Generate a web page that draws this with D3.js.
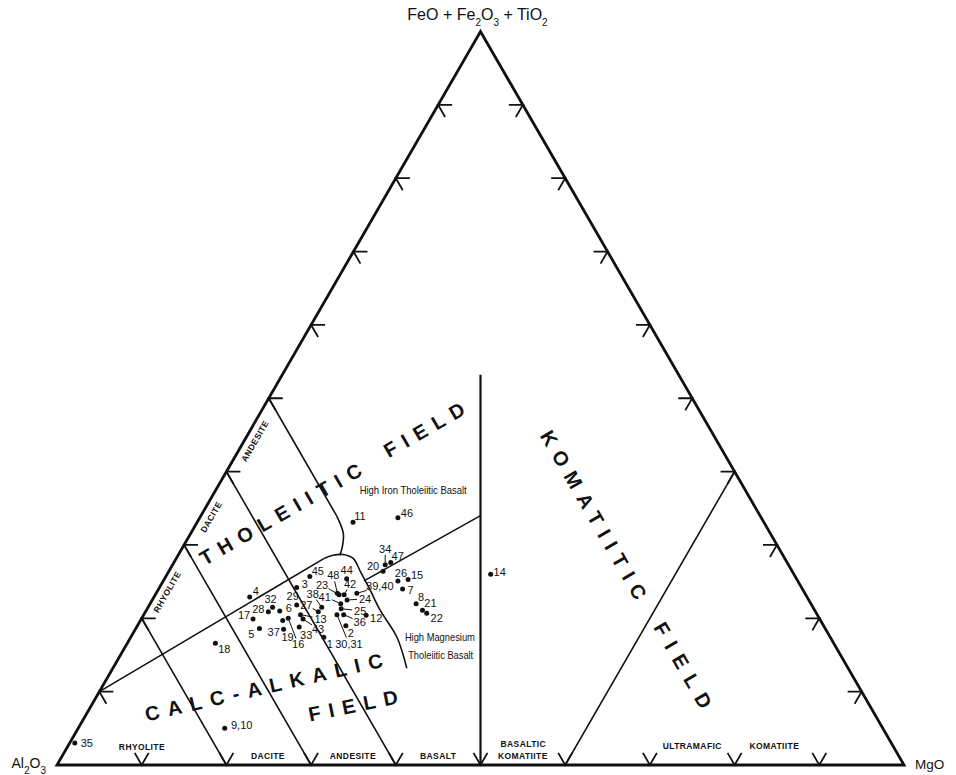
<!DOCTYPE html>
<html>
<head>
<meta charset="utf-8">
<script src="https://cdn.jsdelivr.net/npm/d3@7"></script>
<style>
  body { margin: 0; background: #fff; }
  svg { display: block; }
  text { font-family: 'Liberation Sans', Arial, Helvetica, sans-serif; fill: #111; }
</style>
</head>
<body>
<svg id="chart" width="956" height="775"></svg>
<script>
// compositions are [Al2O3, FeO+Fe2O3+TiO2, MgO] in cation percent

const tickValues = [10, 20, 30, 40, 50, 60, 70, 80, 90];

// calc-alkalic rock boundaries (constant Al)
const caRhyoliteDacite = [[80, 20, 0], [80, 0, 20]];
const caDaciteAndesite = [[70, 30, 0], [70, 0, 30]];
const caAndesiteBasalt = [[60, 40, 0], [60, 0, 40]];
// tholeiitic andesite / basalt boundary
const thAndesiteStraight = [[50, 50, 0], [50, 34, 16]];
const thAndesiteCurve = [[50, 34, 16], [50.4, 31.6, 18], [51.4, 29.8, 18.8], [52.3, 28.6, 19.1]];
// tholeiitic / calc-alkalic boundary and high-Mg tholeiite boundary
const thCaStraight = [[90, 10, 0], [54.3, 28.2, 17.5]];
const thCaCurve = [[54.3, 28.2, 17.5], [53.1, 28.6, 18.3], [51.9, 28.7, 19.4], [51.0, 28.2, 20.9],
  [51.0, 26.3, 22.7], [51.1, 23.9, 25.0], [51.3, 21.1, 27.6], [51.2, 17.5, 31.4], [52.1, 13.2, 34.7]];
const hftHmtLine = [[51.2, 25.1, 23.7], [33, 34, 33]];
const komatiiteLine = [[50, 0, 50], [23.4, 53.2, 23.4]];
const ultramaficLine = [[40, 0, 60], [0, 40, 60]];

// samples: id, composition
const samples = [
  ['1', [59.8, 17.4, 22.8]], ['2', [56.4, 19.0, 24.6]], ['3', [59.6, 24.2, 16.2]],
  ['4', [65.8, 22.9, 11.3]], ['5', [66.8, 18.6, 14.6]], ['6', [63.2, 21.0, 15.8]],
  ['7', [47.2, 24.0, 28.8]], ['8', [46.6, 22.0, 31.4]], ['9,10', [77.7, 5.0, 17.3]],
  ['11', [48.5, 33.1, 18.4]], ['12', [53.3, 20.4, 26.3]], ['13', [61.0, 20.5, 18.5]],
  ['14', [35.8, 26.0, 38.2]], ['15', [45.9, 25.3, 28.8]], ['16', [62.7, 20.0, 17.3]],
  ['17', [66.9, 19.9, 13.2]], ['18', [73.0, 16.6, 10.4]], ['19', [64.0, 18.5, 17.5]],
  ['20', [48.3, 26.4, 25.3]], ['21', [46.3, 21.1, 32.6]], ['22', [46.0, 20.7, 33.3]],
  ['23', [55.1, 23.2, 21.7]], ['24', [54.5, 22.5, 23.0]], ['25', [55.8, 21.3, 22.9]],
  ['26', [47.2, 25.1, 27.7]], ['27', [58.7, 20.9, 20.4]], ['28', [64.6, 20.9, 14.5]],
  ['29', [60.8, 21.8, 17.4]], ['30,31', [56.7, 20.5, 22.8]], ['32', [63.8, 21.5, 14.7]],
  ['33', [62.0, 18.8, 19.2]], ['34', [47.6, 27.3, 25.1]], ['35', [96.4, 3.0, 0.6]],
  ['36', [55.9, 20.5, 23.6]], ['37', [63.5, 19.7, 16.8]], ['38', [58.0, 21.5, 20.5]],
  ['39,40', [52.9, 23.4, 23.7]], ['41', [55.5, 22.0, 22.5]], ['42', [54.5, 23.2, 22.3]],
  ['43', [61.0, 19.9, 19.1]], ['44', [53.1, 25.4, 21.5]], ['45', [57.3, 25.7, 17.0]],
  ['46', [42.9, 33.7, 23.4]], ['47', [46.8, 27.6, 25.6]], ['48', [55.2, 23.4, 21.4]]
];

// where each number sits relative to its dot (px), and which ones get a leader line
const labelOffset = {
  '1': [6, 7], '2': [5, 7], '3': [8, -3], '4': [6, -6], '5': [-8, 5], '6': [9, -3], '7': [8, 1],
  '8': [5, -7], '9,10': [17, -3], '11': [7, -6], '12': [10, 3], '13': [20, 4], '14': [9, -2],
  '15': [9, -4], '16': [10, 26], '17': [-9, -4], '18': [9, 6], '19': [4, 8], '20': [-10, -5],
  '21': [8, -7], '22': [10, 5], '23': [-17, -10], '24': [18, -1], '25': [19, 2], '26': [3, -8],
  '27': [-12, -7], '28': [-10, -3], '29': [-4, -9], '30,31': [12, 29], '32': [-2, -8], '33': [7, 8],
  '34': [0, -16], '35': [12, 0], '36': [16, 7], '37': [-9, 11], '38': [-9, -13], '39,40': [23, -7],
  '41': [-16, -7], '42': [6, -11], '43': [15, 10], '44': [0, -9], '45': [8, -5], '46': [9, -5], '47': [7, -7],
  '48': [-4, -18]
};
const leaders = ['13', '16', '23', '24', '25', '27', '30,31', '34', '36', '38', '39,40', '41', '42', '43', '48'];

const fieldLabels = [
  { text: 'THOLEIITIC', at: [56.5, 34.2, 9.3], angle: -30, spacing: 8 },
  { text: 'FIELD', at: [33.8, 45.7, 20.5], angle: -30, spacing: 8 },
  { text: 'CALC-ALKALIC', at: [70.3, 10.6, 19.1], angle: -13, spacing: 8.5 },
  { text: 'FIELD', at: [61.0, 8.1, 30.9], angle: -11.5, spacing: 8.2 },
  { text: 'KOMATIITIC', at: [19.6, 34.1, 46.3], angle: 60, spacing: 8.5 },
  { text: 'FIELD', at: [19.3, 13.6, 67.1], angle: 60, spacing: 9.5 }
];
const sideLabels = [
  { text: 'RHYOLITE', at: [75.2, 23.6, 1.2] },
  { text: 'DACITE', at: [64.9, 33.8, 1.3] },
  { text: 'ANDESITE', at: [54.6, 44.2, 1.3] }
];
const baseLabels = [
  { text: 'RHYOLITE', at: [88.9, 2.5, 8.8] },
  { text: 'DACITE', at: [74.5, 1.2, 24.3] },
  { text: 'ANDESITE', at: [64.4, 1.2, 34.3] },
  { text: 'BASALT', at: [54.4, 1.2, 44.4] },
  { text: 'BASALTIC', at: [43.5, 2.9, 53.6] },
  { text: 'KOMATIITE', at: [44.4, 1.2, 54.4] },
  { text: 'ULTRAMAFIC', at: [23.7, 2.6, 73.7] },
  { text: 'KOMATIITE', at: [14.0, 2.6, 83.4] }
];
// annotation text with the width it takes in the figure (px)
const noteLabels = [
  { text: 'High Iron Tholeiitic Basalt', at: [39.2, 37.5, 23.3], width: 107 },
  { text: 'High Magnesium', at: [46.1, 17.5, 36.5], width: 70 },
  { text: 'Tholeiitic Basalt', at: [47.2, 15.0, 37.8], width: 65 }
];

const svg = d3.select('#chart');

// horizontal position runs on MgO + Fe/2, vertical on Fe
const x = d3.scaleLinear().domain([0, 100]).range([57, 904]);
const y = d3.scaleLinear().domain([0, 100]).range([765, 31.5]);

function proj(c) {
  const s = c[0] + c[1] + c[2];
  const fe = c[1] / s * 100, mg = c[2] / s * 100;
  return [x(mg + fe / 2), y(fe)];
}

const straight = d3.line().x(d => proj(d)[0]).y(d => proj(d)[1]);
const curved = d3.line().x(d => proj(d)[0]).y(d => proj(d)[1]).curve(d3.curveCatmullRom.alpha(0.5));

// outer triangle
svg.append('path')
  .attr('d', straight([[100, 0, 0], [0, 100, 0], [0, 0, 100]]) + 'Z')
  .attr('fill', 'none').attr('stroke', '#111').attr('stroke-width', 2.8)
  .attr('stroke-linejoin', 'miter');

// ticks, arrow shaped
const L = 14, c60 = Math.cos(Math.PI / 3), s60 = Math.sin(Math.PI / 3);
const tickGroup = svg.append('g').attr('stroke', '#111').attr('stroke-width', 1.8).attr('fill', 'none');
tickValues.forEach(t => {
  let p = proj([100 - t, t, 0]);
  tickGroup.append('path').attr('d', `M${p[0] + L},${p[1]}L${p[0]},${p[1]}L${p[0] + L * c60},${p[1] + L * s60}`);
  p = proj([0, t, 100 - t]);
  tickGroup.append('path').attr('d', `M${p[0] - L},${p[1]}L${p[0]},${p[1]}L${p[0] - L * c60},${p[1] + L * s60}`);
  p = proj([100 - t, 0, t]);
  tickGroup.append('path').attr('d', `M${p[0] - L * c60},${p[1] - L * s60}L${p[0]},${p[1]}L${p[0] + L * c60},${p[1] - L * s60}`);
});

// field boundaries
const bounds = svg.append('g').attr('fill', 'none').attr('stroke', '#111').attr('stroke-width', 1.6);
[caRhyoliteDacite, caDaciteAndesite, caAndesiteBasalt, thAndesiteStraight, thCaStraight, hftHmtLine, ultramaficLine]
  .forEach(l => bounds.append('path').attr('d', straight(l)));
[thAndesiteCurve, thCaCurve].forEach(l => bounds.append('path').attr('d', curved(l)));
bounds.append('path').attr('d', straight(komatiiteLine)).attr('stroke-width', 2.2);

// big field names
fieldLabels.forEach(f => {
  const p = proj(f.at);
  svg.append('text')
    .attr('transform', `translate(${p[0]},${p[1]}) rotate(${f.angle})`)
    .attr('text-anchor', 'middle').attr('dominant-baseline', 'central')
    .attr('dx', f.spacing / 2)
    .style('font-size', '20px').style('font-weight', 'bold')
    .style('letter-spacing', f.spacing + 'px')
    .text(f.text);
});

// rock names along the Al-Fe edge
sideLabels.forEach(f => {
  const p = proj(f.at);
  svg.append('text')
    .attr('transform', `translate(${p[0]},${p[1]}) rotate(-60)`)
    .attr('text-anchor', 'middle').attr('dominant-baseline', 'central')
    .style('font-size', '8.5px').style('font-weight', 'bold').style('letter-spacing', '0.4px')
    .text(f.text);
});

// rock names along the base
baseLabels.forEach(f => {
  const p = proj(f.at);
  svg.append('text')
    .attr('x', p[0]).attr('y', p[1])
    .attr('text-anchor', 'middle').attr('dominant-baseline', 'central')
    .style('font-size', '8.5px').style('font-weight', 'bold').style('letter-spacing', '0.4px')
    .text(f.text);
});

noteLabels.forEach(f => {
  const p = proj(f.at);
  svg.append('text')
    .attr('x', p[0] - f.width / 2).attr('y', p[1])
    .attr('dominant-baseline', 'central')
    .attr('textLength', f.width).attr('lengthAdjust', 'spacingAndGlyphs')
    .style('font-size', '11.5px')
    .text(f.text);
});

// vertex names
const apexPt = proj([0, 100, 0]);
const feLabel = svg.append('text')
  .attr('x', apexPt[0] - 3).attr('y', apexPt[1] - 12)
  .attr('text-anchor', 'middle').style('font-size', '16px');
feLabel.append('tspan').text('FeO + Fe');
feLabel.append('tspan').text('2').attr('baseline-shift', 'sub').style('font-size', '10px');
feLabel.append('tspan').text('O');
feLabel.append('tspan').text('3').attr('baseline-shift', 'sub').style('font-size', '10px');
feLabel.append('tspan').text(' + TiO');
feLabel.append('tspan').text('2').attr('baseline-shift', 'sub').style('font-size', '10px');

const alPt = proj([100, 0, 0]);
const alLabel = svg.append('text')
  .attr('x', alPt[0] - 11).attr('y', alPt[1] + 3)
  .attr('text-anchor', 'end').style('font-size', '14px');
alLabel.append('tspan').text('Al');
alLabel.append('tspan').text('2').attr('baseline-shift', 'sub').style('font-size', '10px');
alLabel.append('tspan').text('O');
alLabel.append('tspan').text('3').attr('baseline-shift', 'sub').style('font-size', '10px');

const mgPt = proj([0, 0, 100]);
svg.append('text')
  .attr('x', mgPt[0] + 11).attr('y', mgPt[1] + 4)
  .style('font-size', '13.5px').text('MgO');

// samples
const pts = svg.append('g');
samples.forEach(([id, c]) => {
  const p = proj(c);
  const off = labelOffset[id];
  const lx = p[0] + off[0], ly = p[1] + off[1];
  if (leaders.includes(id)) {
    const dx = p[0] - lx, dy = p[1] - ly, d = Math.hypot(dx, dy);
    const ux = dx / d, uy = dy / d;
    const rx = id.length * 3.1 + 2, ry = 6;
    const k = 1 / Math.sqrt((ux / rx) ** 2 + (uy / ry) ** 2);
    pts.append('line')
      .attr('x1', lx + ux * k).attr('y1', ly + uy * k)
      .attr('x2', p[0] - ux * 2.5).attr('y2', p[1] - uy * 2.5)
      .attr('stroke', '#111').attr('stroke-width', 1);
  }
  pts.append('circle').attr('cx', p[0]).attr('cy', p[1]).attr('r', 2.5).attr('fill', '#111');
  pts.append('text')
    .attr('x', lx).attr('y', ly)
    .attr('text-anchor', 'middle').attr('dominant-baseline', 'central')
    .style('font-size', '11px')
    .text(id);
});
</script>
</body>
</html>
